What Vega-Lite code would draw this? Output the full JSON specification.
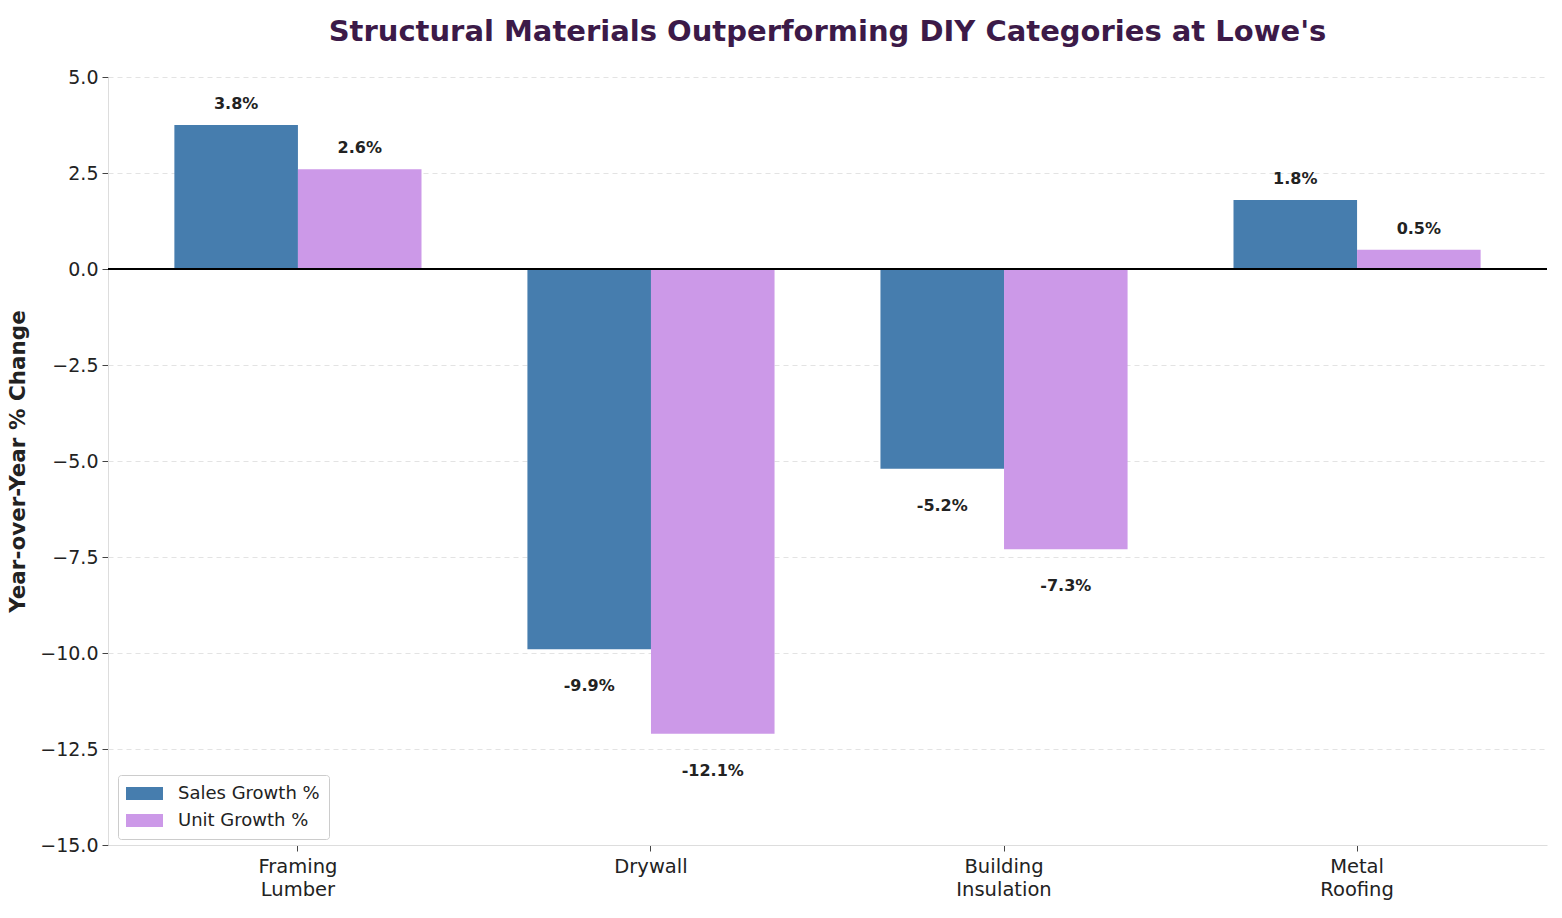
{
  "$schema": "https://vega.github.io/schema/vega-lite/v6.json",
  "description": "Lowe's structural materials vs DIY categories, YoY growth",
  "autosize": "none",
  "width": 1439,
  "height": 768,
  "padding": {"left": 108, "top": 77, "right": 15, "bottom": 73},
  "background": "white",
  "title": {
    "text": "Structural Materials Outperforming DIY Categories at Lowe's",
    "anchor": "middle",
    "color": "#3c1a48",
    "font": "DejaVu Sans",
    "fontSize": 29,
    "fontWeight": "bold",
    "offset": 21
  },
  "data": {
    "values": [
      {"category": "Framing Lumber", "metric": "Sales Growth %", "value": 3.75},
      {"category": "Framing Lumber", "metric": "Unit Growth %", "value": 2.6},
      {"category": "Drywall", "metric": "Sales Growth %", "value": -9.9},
      {"category": "Drywall", "metric": "Unit Growth %", "value": -12.1},
      {"category": "Building Insulation", "metric": "Sales Growth %", "value": -5.2},
      {"category": "Building Insulation", "metric": "Unit Growth %", "value": -7.3},
      {"category": "Metal Roofing", "metric": "Sales Growth %", "value": 1.8},
      {"category": "Metal Roofing", "metric": "Unit Growth %", "value": 0.5}
    ]
  },
  "transform": [
    {"calculate": "replace(format(datum.value, '.1f'), '\u2212', '-') + '%'", "as": "label"}
  ],
  "encoding": {
    "x": {
      "field": "category",
      "type": "nominal",
      "sort": null,
      "scale": {"paddingInner": 0.3, "paddingOuter": 0.188},
      "axis": {
        "title": null,
        "labelAngle": 0,
        "labelExpr": "split(datum.label, ' ')",
        "labelFontSize": 19.5,
        "labelLineHeight": 23,
        "labelColor": "#222",
        "labelPadding": 6,
        "domainColor": "#dddddd",
        "tickColor": "#444",
        "tickSize": 6,
        "grid": false
      }
    },
    "xOffset": {
      "field": "metric",
      "type": "nominal",
      "scale": {"paddingInner": 0, "paddingOuter": 0}
    }
  },
  "layer": [
    {
      "mark": {"type": "bar"},
      "encoding": {
        "y": {
          "field": "value",
          "type": "quantitative",
          "scale": {"domain": [-15, 5], "nice": false},
          "axis": {
            "title": "Year-over-Year % Change",
            "titleFontSize": 21.5,
            "titleFontWeight": "bold",
            "titleColor": "#222",
            "titlePadding": 10,
            "values": [-15, -12.5, -10, -7.5, -5, -2.5, 0, 2.5, 5],
            "format": ".1f",
            "labelFontSize": 19,
            "labelColor": "#222",
            "labelPadding": 4,
            "domainColor": "#dddddd",
            "tickColor": "#444",
            "tickSize": 6,
            "gridColor": "#e3e3e3",
            "gridDash": [5, 4],
            "gridWidth": 1
          }
        },
        "color": {
          "field": "metric",
          "type": "nominal",
          "scale": {
            "domain": ["Sales Growth %", "Unit Growth %"],
            "range": ["#467dae", "#cc99e8"]
          },
          "legend": {
            "title": null,
            "orient": "none",
            "legendX": 10,
            "legendY": 698,
            "symbolType": "M-2,-0.7H2V0.7H-2Z",
            "symbolSize": 342,
            "symbolStrokeWidth": 0,
            "symbolOffset": 8,
            "labelFontSize": 18,
            "labelColor": "#222",
            "labelOffset": 24,
            "rowPadding": 8,
            "padding": 9,
            "strokeColor": "#cccccc",
            "fillColor": "white",
            "cornerRadius": 3
          }
        }
      }
    },
    {
      "mark": {"type": "rule", "color": "black", "strokeWidth": 2},
      "encoding": {"y": {"datum": 0}, "x": null, "xOffset": null}
    },
    {
      "transform": [{"filter": "datum.value >= 0"}],
      "mark": {"type": "text", "fontWeight": "bold", "fontSize": 16, "color": "#222", "baseline": "middle", "dy": -21},
      "encoding": {
        "y": {"field": "value", "type": "quantitative"},
        "text": {"field": "label", "type": "nominal"}
      }
    },
    {
      "transform": [{"filter": "datum.value < 0"}],
      "mark": {"type": "text", "fontWeight": "bold", "fontSize": 16, "color": "#222", "baseline": "middle", "dy": 37},
      "encoding": {
        "y": {"field": "value", "type": "quantitative"},
        "text": {"field": "label", "type": "nominal"}
      }
    }
  ],
  "config": {
    "font": "DejaVu Sans",
    "view": {"stroke": null}
  }
}
